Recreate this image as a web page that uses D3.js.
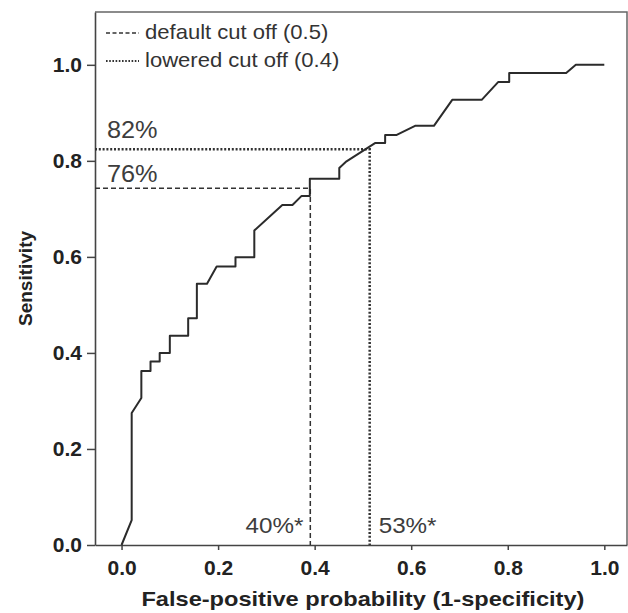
<!DOCTYPE html>
<html>
<head>
<meta charset="utf-8">
<script src="https://cdn.jsdelivr.net/npm/d3@7"></script>
<style>
  body { margin: 0; background: #fff; }
  text { font-family: "Liberation Sans", Arial, sans-serif; }
</style>
</head>
<body>
<div id="chart"></div>
<script>
// ROC curve points (false-positive rate, sensitivity)
const rocFpr = [0, 0.021, 0.021, 0.041, 0.041, 0.06, 0.06, 0.079, 0.079, 0.1, 0.1, 0.138, 0.138, 0.156, 0.156, 0.177,
  0.197, 0.236, 0.236, 0.275, 0.275, 0.333, 0.354, 0.373, 0.39, 0.39, 0.451, 0.451, 0.466, 0.525, 0.546, 0.546,
  0.57, 0.608, 0.647, 0.685, 0.746, 0.78, 0.803, 0.803, 0.921, 0.941, 1.0];
const rocTpr = [0, 0.052, 0.275, 0.306, 0.3625, 0.3625, 0.382, 0.382, 0.40, 0.40, 0.436, 0.436, 0.472, 0.472, 0.544, 0.544,
  0.58, 0.58, 0.599, 0.599, 0.655, 0.708, 0.708, 0.727, 0.727, 0.7625, 0.7625, 0.785, 0.799, 0.837, 0.837, 0.854,
  0.854, 0.873, 0.873, 0.927, 0.927, 0.964, 0.964, 0.983, 0.983, 1.0, 1.0];

// cut-off points
const cutNames = ["default cut off (0.5)", "lowered cut off (0.4)"];
const cutFpr = [0.391, 0.514];
const cutTpr = [0.743, 0.824];
const cutSensLabels = ["76%", "82%"];
const cutFprLabels = ["40%*", "53%*"];
const cutDash = ["5,3", "2,1.8"];
const cutWidth = [1.5, 2.5];

const tickValues = [0, 0.2, 0.4, 0.6, 0.8, 1.0];

const W = 628, H = 613;
const svg = d3.select("#chart").append("svg")
  .attr("width", W)
  .attr("height", H);

const x = d3.scaleLinear().domain([-0.055, 1.047]).range([95, 627]);
const y = d3.scaleLinear().domain([0, 1.11]).range([545, 12]);

// text helper: the source figure's text is a bit wider than Arial, so stretch horizontally
function addText(px, py, str, size, opts = {}) {
  const g = svg.append("g").attr("transform", `translate(${px},${py}) scale(${opts.sx || 1},1)`);
  return g.append("text")
    .attr("text-anchor", opts.anchor || "start")
    .attr("fill", opts.fill || "#3d3d3d")
    .style("font-size", size + "px")
    .style("font-weight", opts.bold ? "bold" : "normal")
    .text(str);
}

// frame (top + right)
svg.append("path")
  .attr("d", `M${x(-0.055)},${y(1.11)}H${x(1.047)}V${y(0)}`)
  .attr("fill", "none")
  .attr("stroke", "#666")
  .attr("stroke-width", 1.5);

// axes
const xAxis = svg.append("g")
  .attr("transform", `translate(0,${y(0)})`)
  .call(d3.axisBottom(x).tickValues(tickValues).tickFormat(d3.format(".1f")).tickSize(5).tickSizeOuter(0).tickPadding(10));
const yAxis = svg.append("g")
  .attr("transform", `translate(${x(-0.055)},0)`)
  .call(d3.axisLeft(y).tickValues(tickValues).tickFormat(d3.format(".1f")).tickSize(8).tickSizeOuter(0).tickPadding(5));

[xAxis, yAxis].forEach(g => {
  g.select(".domain").attr("stroke", "#444").attr("stroke-width", 1.6);
  g.selectAll(".tick line").attr("stroke", "#444").attr("stroke-width", 1.5);
  g.selectAll(".tick text")
    .attr("fill", "#222")
    .style("font-size", "21px")
    .style("font-weight", "bold")
    .style("font-family", "'Liberation Sans', Arial, sans-serif");
});

// axis titles
addText(x(0.5), 606, "False-positive probability (1-specificity)", 20, { anchor: "middle", bold: true, fill: "#222", sx: 1.18 });

svg.append("text")
  .attr("transform", `translate(32,${y(0.555)}) rotate(-90)`)
  .attr("text-anchor", "middle")
  .attr("fill", "#222")
  .style("font-size", "19px")
  .style("font-weight", "bold")
  .text("Sensitivity");

// cut-off reference lines
cutFpr.forEach((f, i) => {
  svg.append("path")
    .attr("d", `M${x(-0.055)},${y(cutTpr[i])}H${x(f)}V${y(0)}`)
    .attr("fill", "none")
    .attr("stroke", "#333")
    .attr("stroke-width", cutWidth[i])
    .attr("stroke-dasharray", cutDash[i]);
});

// ROC curve
const rocData = rocFpr.map((f, i) => [f, rocTpr[i]]);
svg.append("path")
  .datum(rocData)
  .attr("d", d3.line().x(d => x(d[0])).y(d => y(d[1])))
  .attr("fill", "none")
  .attr("stroke", "#2b2b2b")
  .attr("stroke-width", 2)
  .attr("stroke-linejoin", "round");

// sensitivity labels above horizontal lines
addText(107, y(cutTpr[0]) - 6, cutSensLabels[0], 23, { sx: 1.1 });
addText(107, y(cutTpr[1]) - 11, cutSensLabels[1], 23, { sx: 1.1 });

// fpr labels near the bottom
addText(x(cutFpr[0]) - 7, 533, cutFprLabels[0], 22, { anchor: "end", sx: 1.1 });
addText(x(cutFpr[1]) + 9, 533, cutFprLabels[1], 22, { sx: 1.1 });

// legend
cutNames.forEach((name, i) => {
  const ly = 33 + i * 28;
  svg.append("line")
    .attr("x1", 106).attr("x2", 139)
    .attr("y1", ly).attr("y2", ly)
    .attr("stroke", "#333")
    .attr("stroke-width", i === 0 ? 1.5 : 2.2)
    .attr("stroke-dasharray", i === 0 ? "4,2.5" : "1.6,1.6");
  addText(145, ly + 6, name, 21, { fill: "#333", sx: 1.05 });
});
</script>
</body>
</html>
